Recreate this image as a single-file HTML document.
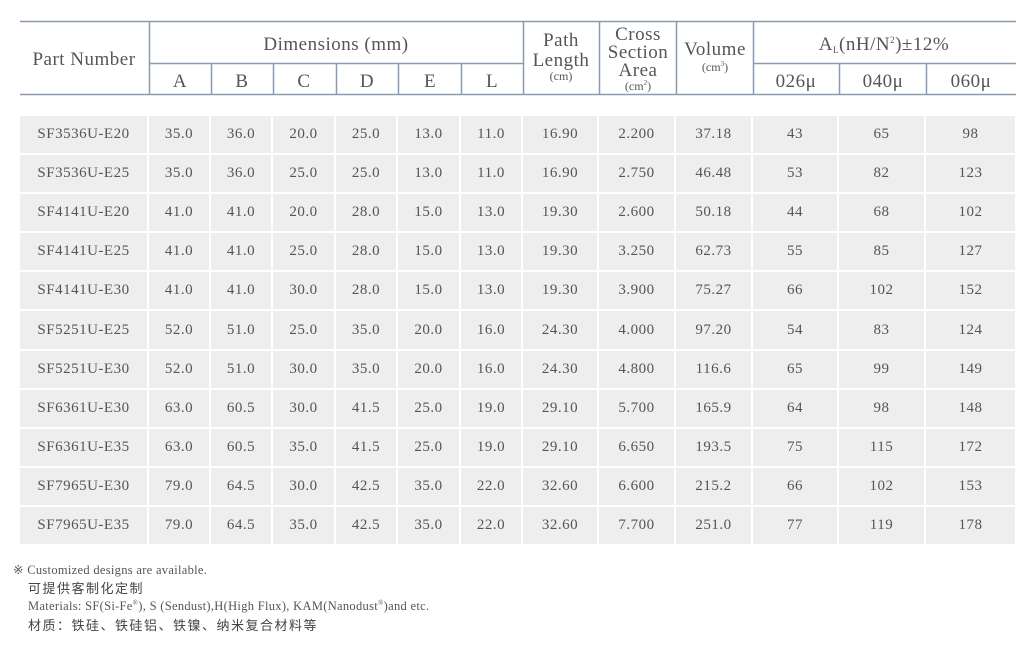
<!DOCTYPE html>
<html><head><meta charset="utf-8"><style>
body{margin:0;width:1036px;height:646px;background:#fff;position:relative;overflow:hidden;font-family:"Liberation Serif",serif;color:#555}
table{position:absolute;left:20px;top:116px;border-collapse:separate;border-spacing:0;table-layout:fixed;width:997px}
td{height:37.1px;box-sizing:content-box;background:#eeeeee;border-right:2px solid #fff;border-bottom:2px solid #fff;text-align:center;font-size:15px;letter-spacing:0.5px;padding:0;color:#555}
.n{position:absolute;font-size:12.5px;color:#555;letter-spacing:0.3px}
.c{position:absolute;font-family:"Liberation Sans","Noto Sans CJK SC",sans-serif;font-size:13px;color:#444;letter-spacing:1.5px}
</style></head><body>
<svg width="1036" height="100" style="position:absolute;left:0;top:0" font-family="Liberation Serif, serif" fill="#555">
<g stroke="#8a9bb0" stroke-width="1.5">
<line x1="20" y1="21.5" x2="1016" y2="21.5"/>
<line x1="20" y1="94.5" x2="1016" y2="94.5"/>
<line x1="149" y1="63.5" x2="523" y2="63.5"/>
<line x1="753" y1="63.5" x2="1016" y2="63.5"/>
<line x1="149.5" y1="21" x2="149.5" y2="95"/>
<line x1="523.5" y1="21" x2="523.5" y2="95"/>
<line x1="599.5" y1="21" x2="599.5" y2="95"/>
<line x1="676.5" y1="21" x2="676.5" y2="95"/>
<line x1="753.5" y1="21" x2="753.5" y2="95"/>
<line x1="211.5" y1="63" x2="211.5" y2="95"/>
<line x1="273.5" y1="63" x2="273.5" y2="95"/>
<line x1="336.5" y1="63" x2="336.5" y2="95"/>
<line x1="398.5" y1="63" x2="398.5" y2="95"/>
<line x1="461.5" y1="63" x2="461.5" y2="95"/>
<line x1="839.5" y1="63" x2="839.5" y2="95"/>
<line x1="926.5" y1="63" x2="926.5" y2="95"/>
</g>
<g font-size="19" text-anchor="middle" letter-spacing="0.5">
<text x="84" y="65">Part Number</text>
<text x="336" y="50">Dimensions (mm)</text>
<text x="180" y="87">A</text><text x="242" y="87">B</text><text x="304" y="87">C</text>
<text x="367" y="87">D</text><text x="430" y="87">E</text><text x="492" y="87">L</text>
<text x="561" y="46">Path</text><text x="561" y="66">Length</text>
<text x="638" y="40">Cross</text><text x="638" y="58">Section</text><text x="638" y="76">Area</text>
<text x="715" y="55">Volume</text>
<text x="884" y="50">A<tspan font-size="9" dy="3">L</tspan><tspan dy="-3">(nH/N</tspan><tspan font-size="9" dy="-7">2</tspan><tspan dy="7">)±12%</tspan></text>
<text x="796" y="87">026μ</text><text x="883" y="87">040μ</text><text x="971" y="87">060μ</text>
</g>
<g font-size="12" text-anchor="middle">
<text x="561" y="80">(cm)</text>
<text x="638" y="90">(cm<tspan font-size="7" dy="-5">2</tspan><tspan dy="5">)</tspan></text>
<text x="715" y="71">(cm<tspan font-size="7" dy="-5">3</tspan><tspan dy="5">)</tspan></text>
</g>
</svg>
<table>
<colgroup><col style="width:129px"><col style="width:62px"><col style="width:62px"><col style="width:63px"><col style="width:62px"><col style="width:63px"><col style="width:62px"><col style="width:76px"><col style="width:77px"><col style="width:77px"><col style="width:86px"><col style="width:87px"><col style="width:91px"></colgroup>
<tr><td>SF3536U-E20</td><td>35.0</td><td>36.0</td><td>20.0</td><td>25.0</td><td>13.0</td><td>11.0</td><td>16.90</td><td>2.200</td><td>37.18</td><td>43</td><td>65</td><td>98</td></tr>
<tr><td>SF3536U-E25</td><td>35.0</td><td>36.0</td><td>25.0</td><td>25.0</td><td>13.0</td><td>11.0</td><td>16.90</td><td>2.750</td><td>46.48</td><td>53</td><td>82</td><td>123</td></tr>
<tr><td>SF4141U-E20</td><td>41.0</td><td>41.0</td><td>20.0</td><td>28.0</td><td>15.0</td><td>13.0</td><td>19.30</td><td>2.600</td><td>50.18</td><td>44</td><td>68</td><td>102</td></tr>
<tr><td>SF4141U-E25</td><td>41.0</td><td>41.0</td><td>25.0</td><td>28.0</td><td>15.0</td><td>13.0</td><td>19.30</td><td>3.250</td><td>62.73</td><td>55</td><td>85</td><td>127</td></tr>
<tr><td>SF4141U-E30</td><td>41.0</td><td>41.0</td><td>30.0</td><td>28.0</td><td>15.0</td><td>13.0</td><td>19.30</td><td>3.900</td><td>75.27</td><td>66</td><td>102</td><td>152</td></tr>
<tr><td>SF5251U-E25</td><td>52.0</td><td>51.0</td><td>25.0</td><td>35.0</td><td>20.0</td><td>16.0</td><td>24.30</td><td>4.000</td><td>97.20</td><td>54</td><td>83</td><td>124</td></tr>
<tr><td>SF5251U-E30</td><td>52.0</td><td>51.0</td><td>30.0</td><td>35.0</td><td>20.0</td><td>16.0</td><td>24.30</td><td>4.800</td><td>116.6</td><td>65</td><td>99</td><td>149</td></tr>
<tr><td>SF6361U-E30</td><td>63.0</td><td>60.5</td><td>30.0</td><td>41.5</td><td>25.0</td><td>19.0</td><td>29.10</td><td>5.700</td><td>165.9</td><td>64</td><td>98</td><td>148</td></tr>
<tr><td>SF6361U-E35</td><td>63.0</td><td>60.5</td><td>35.0</td><td>41.5</td><td>25.0</td><td>19.0</td><td>29.10</td><td>6.650</td><td>193.5</td><td>75</td><td>115</td><td>172</td></tr>
<tr><td>SF7965U-E30</td><td>79.0</td><td>64.5</td><td>30.0</td><td>42.5</td><td>35.0</td><td>22.0</td><td>32.60</td><td>6.600</td><td>215.2</td><td>66</td><td>102</td><td>153</td></tr>
<tr><td>SF7965U-E35</td><td>79.0</td><td>64.5</td><td>35.0</td><td>42.5</td><td>35.0</td><td>22.0</td><td>32.60</td><td>7.700</td><td>251.0</td><td>77</td><td>119</td><td>178</td></tr>
</table>
<div class="n" style="left:13px;top:562px">※ Customized designs are available.</div>
<div class="c" style="left:28px;top:578px">可提供客制化定制</div>
<div class="n" style="left:28px;top:599px">Materials: SF(Si-Fe<sup style="font-size:7px">®</sup>), S (Sendust),H(High Flux), KAM(Nanodust<sup style="font-size:7px">®</sup>)and etc.</div>
<div class="c" style="left:28px;top:615px">材质：铁硅、铁硅铝、铁镍、纳米复合材料等</div>
</body></html>
